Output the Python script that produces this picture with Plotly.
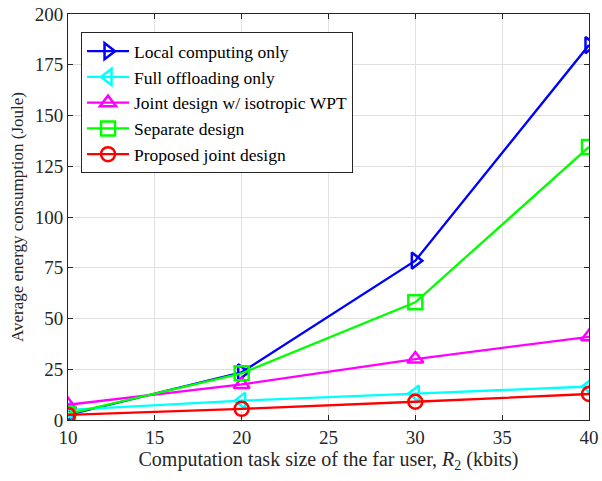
import plotly.graph_objects as go

x_vals = [10, 20, 30, 40]
local_only = [2.5, 23.5, 78.5, 184.7]
full_offload = [5, 9.5, 13, 16.5]
joint_iso = [7.5, 17.5, 30, 41]
separate = [3, 23, 58, 134.5]
proposed = [2.5, 5.5, 9, 12.8]

series = [
    ("Local computing only", local_only, "#0000ff", "triangle-right-open"),
    ("Full offloading only", full_offload, "#00ffff", "triangle-left-open"),
    ("Joint design w/ isotropic WPT", joint_iso, "#ff00ff", "triangle-up-open"),
    ("Separate design", separate, "#00ff00", "square-open"),
    ("Proposed joint design", proposed, "#ff0000", "circle-open"),
]

fig = go.Figure()
for name, ys, col, sym in series:
    fig.add_trace(go.Scatter(
        x=x_vals, y=ys, name=name, mode="lines+markers",
        line=dict(color=col, width=2.3),
        marker=dict(symbol=sym, size=14, color=col, line=dict(width=2.5, color=col)),
    ))

font_family = "Liberation Serif"
fig.update_layout(
    width=602, height=481,
    margin=dict(l=68, r=13, t=14, b=61),
    paper_bgcolor="white", plot_bgcolor="white",
    font=dict(family=font_family, size=19, color="#262626"),
    showlegend=True,
    legend=dict(
        x=0.025, y=0.955, xanchor="left", yanchor="top",
        bgcolor="white", bordercolor="#262626", borderwidth=1,
        font=dict(family=font_family, size=17.5, color="black"),
        tracegroupgap=0, itemwidth=42,
    ),
    xaxis=dict(
        title=dict(text="Computation task size of the far user, <i>R</i><sub>2</sub> (kbits)", standoff=5,
                   font=dict(size=20)),
        range=[10, 40], tickvals=[10, 15, 20, 25, 30, 35, 40],
        showgrid=True, gridcolor="#e0e0e0", gridwidth=1, automargin=False,
        showline=True, linecolor="#262626", linewidth=1, mirror="ticks",
        ticks="inside", ticklen=5, tickcolor="#262626", zeroline=False,
    ),
    yaxis=dict(
        title=dict(text="Average energy consumption (Joule)", standoff=6, font=dict(size=17)),
        range=[0, 200], tickvals=[0, 25, 50, 75, 100, 125, 150, 175, 200],
        showgrid=True, gridcolor="#e0e0e0", gridwidth=1, automargin=False,
        showline=True, linecolor="#262626", linewidth=1, mirror="ticks",
        ticks="inside", ticklen=5, tickcolor="#262626", zeroline=False,
    ),
)

fig.write_html("out.html")
